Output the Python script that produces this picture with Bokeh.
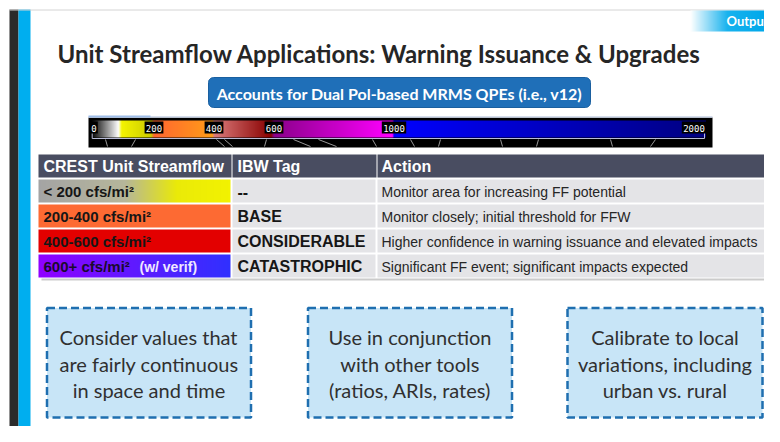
import numpy as np
from bokeh.plotting import figure
from bokeh.models import Range1d
from bokeh.embed import file_html
from bokeh.resources import INLINE
from bokeh.core.properties import value

# ---------------- content ----------------
title = "Unit Streamflow Applications: Warning Issuance & Upgrades"
banner = "Accounts for Dual Pol-based MRMS QPEs (i.e., v12)"
tab_label = "Outpu"

cb_ticks = [0, 200, 400, 600, 1000, 2000]
cb_tick_labels = ["0", "200", "400", "600", "1000", "2000"]
cb_stop_values = [-8, 82, 92, 190, 200, 395, 400, 590, 600, 995, 1000, 2040]
cb_stop_colors = ["#000000", "#ffffff", "#f4f400", "#cccc00", "#ff6630", "#ff9c18",
                  "#dc7c7c", "#880000", "#8a008a", "#ff00ff", "#0000ff", "#000080"]

headers = ["CREST Unit Streamflow", "IBW Tag", "Action"]
ranges = ["< 200 cfs/mi²", "200-400 cfs/mi²", "400-600 cfs/mi²", "600+ cfs/mi²"]
range_note = "(w/ verif)"
tags = ["--", "BASE", "CONSIDERABLE", "CATASTROPHIC"]
actions = ["Monitor area for increasing FF potential",
           "Monitor closely; initial threshold for FFW",
           "Higher confidence in warning issuance and elevated impacts",
           "Significant FF event; significant impacts expected"]

tips = [["Consider values that", "are fairly continuous", "in space and time"],
        ["Use in conjunction", "with other tools", "(ratios, ARIs, rates)"],
        ["Calibrate to local", "variations, including", "urban vs. rural"]]

# ---------------- figure ----------------
W, H = 764, 426
p = figure(width=W, height=H, output_backend="svg", toolbar_location=None,
           x_range=Range1d(0, W), y_range=Range1d(H, 0),
           min_border=0, background_fill_color="white", border_fill_color="white")
p.axis.visible = False
p.grid.visible = False
p.outline_line_color = None


def hex2rgb(h):
    h = h.lstrip("#")
    return np.array([int(h[i:i + 2], 16) for i in (0, 2, 4)], dtype=float)


def ramp(positions, colors, samples):
    rgb = np.array([hex2rgb(c) for c in colors])
    out = np.zeros((1, len(samples)), dtype=np.uint32)
    view = out.view(dtype=np.uint8).reshape((1, len(samples), 4))
    for k in range(3):
        view[0, :, k] = np.clip(np.round(np.interp(samples, positions, rgb[:, k])), 0, 255)
    view[0, :, 3] = 255
    return out


def gradient(x0, x1, y0, y1, stops_pos, stops_col, **kw):
    n = max(int(x1 - x0), 2)
    img = ramp(stops_pos, stops_col, (np.arange(n) + 0.5) / n)
    p.image_rgba(image=[img], x=x0, y=y0, dw=x1 - x0, dh=y1 - y0, **kw)


# ---------------- slide frame ----------------
p.quad(left=[9], right=[18], top=[9], bottom=[445], fill_color="#2b2b2b", line_color=None)
p.quad(left=[18], right=[30], top=[9], bottom=[445], fill_color="#00aeef", line_color=None)
p.line(x=[9, 780], y=[9.5, 9.5], line_color="#d4d4d4", line_width=1)

# tab
gradient(690, 764, 10, 31, [0, 0.5, 1], ["#ffffff", "#18b2ee", "#00a8ea"])
p.text(x=[726], y=[20.5], text=[tab_label], text_font=value("Lato"), text_font_style="bold",
       text_font_size="13px", text_color="white", text_baseline="middle", text_align="left")

# title
p.text(x=[57], y=[53], text=[title], text_font=value("Lato"), text_font_style="bold",
       text_font_size="24px", text_color="#262626", text_baseline="alphabetic", text_align="left")


# banner button (rounded)
def rounded(x0, x1, y0, y1, r):
    xs, ys = [], []
    for cx, cy, a0 in [(x1 - r, y0 + r, -90), (x1 - r, y1 - r, 0), (x0 + r, y1 - r, 90), (x0 + r, y0 + r, 180)]:
        a = np.radians(np.linspace(a0, a0 + 90, 8))
        xs += list(cx + r * np.cos(a))
        ys += list(cy + r * np.sin(a))
    return xs, ys


bx, by = rounded(208, 590, 77, 107, 5)
p.patch(bx, by, fill_color="#1f6fb8", line_color="#1a5f9f", line_width=1)
p.text(x=[399], y=[92.5], text=[banner], text_font=value("Lato"), text_font_style="bold",
       text_font_size="16px", text_color="white", text_baseline="middle", text_align="center")

# ---------------- colour bar ----------------
p.extra_x_ranges = {"cb": Range1d((0 - 93.5) / 0.3, (W - 93.5) / 0.3)}
p.quad(left=[88], right=[712], top=[117], bottom=[147], fill_color="#000000", line_color=None)
p.line(x=[88, 712], y=[116.5, 116.5], line_color="#c9d3e6", line_width=1.5)
p.line(x=[88, 150], y=[116, 116], line_color="#9fbde8", line_width=2)

v0, v1 = cb_stop_values[0], cb_stop_values[-1]
nv = int((v1 - v0) * 0.3)
cb_img = ramp(cb_stop_values, cb_stop_colors, v0 + (np.arange(nv) + 0.5) * (v1 - v0) / nv)
p.image_rgba(image=[cb_img], x=v0, y=120, dw=v1 - v0, dh=17, x_range_name="cb")

# bracket line under the bar
p.line(x=[v0 + 2, v0 + 2, cb_ticks[-1] + 35, cb_ticks[-1] + 35],
       y=[131, 138, 138, 131], line_color="#b8bcd8", line_width=1, x_range_name="cb")
# faint map borders beneath
for xa, xb in [(105, 107), (135, 131), (216, 224), (224, 232), (266, 264), (293, 310), (318, 336),
               (372, 376), (410, 414), (440, 438), (500, 502), (538, 536), (610, 612), (655, 650)]:
    p.line(x=[xa, xb], y=[139, 146], line_color="#9a9a9a", line_width=1)

lab_w = [len(s) * 5.6 + 2 for s in cb_tick_labels]
p.rect(x=cb_ticks, y=[127] * len(cb_ticks), width=lab_w, height=[12] * len(cb_ticks),
       width_units="screen", height_units="screen", fill_color="#000000", line_color=None,
       x_range_name="cb")
p.text(x=cb_ticks, y=[127.5] * len(cb_ticks), text=cb_tick_labels, text_font=value("DejaVu Sans Mono"),
       text_font_size="9px", text_color="white", text_align="center", text_baseline="middle",
       x_range_name="cb")

# ---------------- table ----------------
col_edges = [38, 231, 376, 776]
row_edges = [(154, 177), (179, 202), (204, 227), (229, 252), (254, 277)]
text_x = [43, 237, 381]

p.quad(left=[41], right=[779], top=[157], bottom=[280], fill_color="#8c8c8c", fill_alpha=0.45, line_color=None)
p.quad(left=[38], right=[776], top=[154], bottom=[278], fill_color="#ffffff", line_color=None)

# header
p.quad(left=[38, 232, 377], right=[231, 376, 776], top=[154] * 3, bottom=[177] * 3,
       fill_color="#494d61", line_color=None)
p.text(x=text_x, y=[166] * 3, text=headers, text_font=value("Liberation Sans"), text_font_style="bold",
       text_font_size="16px", text_color="white", text_baseline="middle", text_align="left")

# body
row_fill = [None, "#fd6a33", "#e30000", None]
for i in range(4):
    t, b = row_edges[i + 1]
    if row_fill[i] is None:
        if i == 0:
            gradient(38, 230, t, b, [0, 0.45, 0.72, 1], ["#a4a4a4", "#b6b69a", "#eaea08", "#f2f200"])
        else:
            gradient(38, 230, t, b, [0, 0.55, 1], ["#9000ff", "#5a1cff", "#3030ff"])
    else:
        p.quad(left=[38], right=[230], top=[t], bottom=[b], fill_color=row_fill[i], line_color=None)
    p.quad(left=[232, 377], right=[375, 776], top=[t, t], bottom=[b, b],
           fill_color="#e4e4e7", line_color=None)

row_y = [(t + b) / 2 + 0.5 for t, b in row_edges[1:]]
range_colors = ["#161616", "#161616", "#161616", "#1a0a2e"]
p.text(x=[43] * 4, y=row_y, text=ranges, text_font=value("Liberation Sans"), text_font_style="bold",
       text_font_size="15px", text_color=range_colors, text_baseline="middle", text_align="left")
p.text(x=[139], y=[row_y[3] + 0.5], text=[range_note], text_font=value("Liberation Sans"),
       text_font_style="bold", text_font_size="14px", text_color="#f0e8ff",
       text_baseline="middle", text_align="left")
p.text(x=[237] * 4, y=row_y, text=tags, text_font=value("Liberation Sans"), text_font_style="bold",
       text_font_size="16px", text_color="#161616", text_baseline="middle", text_align="left")
p.text(x=[381] * 4, y=row_y, text=actions, text_font=value("Liberation Sans"),
       text_font_size="14px", text_color="#262626", text_baseline="middle", text_align="left")

# ---------------- tip boxes ----------------
box_left = [46.5, 307.5, 567]
box_right = [250.5, 511.5, 762]
p.quad(left=box_left, right=box_right, top=[307.5] * 3, bottom=[417] * 3,
       fill_color="#c8e5f7", line_color="#1f6fb0", line_width=2.5, line_dash="8 4")
line_y = [336.5, 363, 389.5]
for i, lines in enumerate(tips):
    cx = (box_left[i] + box_right[i]) / 2
    p.text(x=[cx] * 3, y=line_y, text=lines, text_font=value("Lato"), text_font_size="20px",
           text_color="#303030", text_align="center", text_baseline="middle")

open("out.html", "w").write(file_html(p, INLINE))
